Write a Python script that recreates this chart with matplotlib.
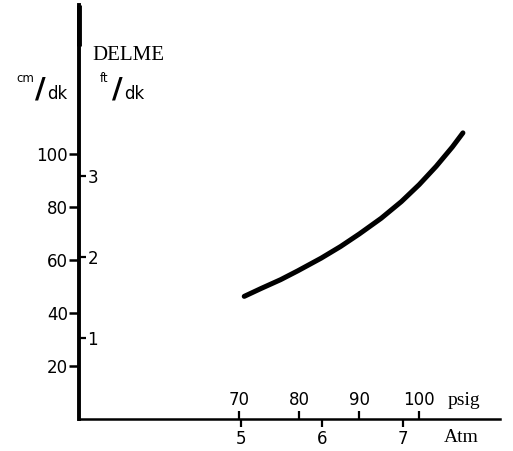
import matplotlib.pyplot as plt

# values
atm = [5.04, 5.25, 5.49, 5.70, 5.99, 6.23, 6.46, 6.73, 6.98, 7.20, 7.41, 7.61, 7.74]
cm_per_dk = [46.2, 49.2, 52.5, 55.8, 60.6, 65.0, 69.7, 75.6, 81.9, 88.3, 95.2, 102.5, 107.8]

cm_ticks = [20, 40, 60, 80, 100]
ft_ticks = [1, 2, 3]
atm_ticks = [5, 6, 7]
psig_ticks = [70, 80, 90, 100]

CM_PER_FT = 30.48
X_MIN, X_MAX = 3.0, 8.2
Y_MIN, Y_MAX = 0, 156


def atm_to_psig(a):
    return 70.33 + 13.5 * (a - 5)


num_font = dict(family='DejaVu Sans', size=12)
serif = 'Liberation Serif'

fig = plt.figure(figsize=(5.13, 4.51), dpi=100)
ax = fig.add_axes([0.154, 0.071, 0.821, 0.918])
ax.set_xlim(X_MIN, X_MAX)
ax.set_ylim(Y_MIN, Y_MAX)

ax.plot(atm, cm_per_dk, color='black', lw=3.6,
        solid_capstyle='round', solid_joinstyle='round')

for s in ['top', 'right']:
    ax.spines[s].set_visible(False)
ax.spines['left'].set_linewidth(2.8)
ax.spines['bottom'].set_linewidth(1.8)
# slightly heavier stroke at the top end of the vertical axis, as in the scan
ax.plot([0, 0], [0.9, 1.0], transform=ax.transAxes, color='black',
        lw=3.5, clip_on=False, solid_capstyle='butt')

# cm/dk ticks pointing left, Atm ticks pointing down
ax.set_yticks(cm_ticks)
ax.set_yticklabels([str(v) for v in cm_ticks], fontdict=num_font)
ax.tick_params(axis='y', direction='out', length=7, width=1.8, pad=1)
ax.set_xticks(atm_ticks)
ax.set_xticklabels([str(v) for v in atm_ticks], fontdict=num_font)
ax.tick_params(axis='x', direction='out', length=6, width=1.6, pad=2)

# ft/dk ticks on the same spine, pointing right
ay = ax.twinx()
ay.set_ylim(Y_MIN / CM_PER_FT, Y_MAX / CM_PER_FT)
ay.spines['right'].set_position(('axes', 0))
for s in ['top', 'left', 'bottom', 'right']:
    ay.spines[s].set_visible(False)
ay.set_yticks(ft_ticks)
ay.set_yticklabels([str(v) for v in ft_ticks], fontdict=num_font)
ay.tick_params(axis='y', direction='out', length=5, width=1.6, pad=1)

# psig ticks on the same spine, pointing up
axp = ax.twiny()
axp.set_xlim(atm_to_psig(X_MIN), atm_to_psig(X_MAX))
axp.spines['top'].set_position(('axes', 0))
for s in ['top', 'left', 'bottom', 'right']:
    axp.spines[s].set_visible(False)
axp.set_xticks(psig_ticks)
axp.set_xticklabels([str(v) for v in psig_ticks], fontdict=num_font)
axp.tick_params(axis='x', direction='out', length=6, width=1.6, pad=1)

# axis titles
fig.text(0.872, 0.112, 'psig', family=serif, size=14, ha='left', va='center')
fig.text(0.866, 0.03, 'Atm', family=serif, size=14, ha='left', va='center')
fig.text(0.180, 0.877, 'DELME', family=serif, size=15, ha='left', va='center')


def unit_label(x_top, x_slash, x_bottom, top, bottom):
    # "top/bottom" written as a raised / lowered pair around a heavy slash
    fig.text(x_top / 513, 1 - 79 / 451, top, family='DejaVu Sans', size=8.5,
             ha='left', va='center')
    fig.text(x_slash / 513, 1 - 90 / 451, '/', family='DejaVu Sans', size=21,
             weight='bold', ha='left', va='center')
    fig.text(x_bottom / 513, 1 - 94 / 451, bottom, family='DejaVu Sans', size=12,
             ha='left', va='center')


unit_label(16, 35, 47, 'cm', 'dk')
unit_label(100, 112, 124, 'ft', 'dk')

fig.savefig('out.png', dpi=100)
